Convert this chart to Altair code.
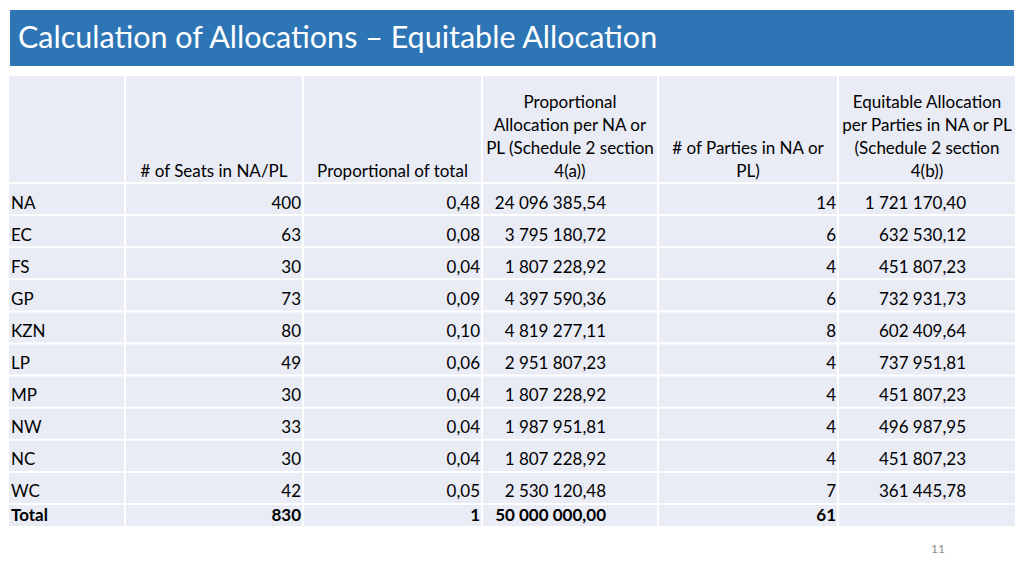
import altair as alt
import pandas as pd

# ---------------- data ----------------
title = "Calculation of Allocations \u2013 Equitable Allocation"
page_no = "11"
regions = ["NA", "EC", "FS", "GP", "KZN", "LP", "MP", "NW", "NC", "WC"]
seats = [400, 63, 30, 73, 80, 49, 30, 33, 30, 42]
proportion = [0.48, 0.08, 0.04, 0.09, 0.10, 0.06, 0.04, 0.04, 0.04, 0.05]
prop_alloc = [24096385.54, 3795180.72, 1807228.92, 4397590.36, 4819277.11,
              2951807.23, 1807228.92, 1987951.81, 1807228.92, 2530120.48]
parties = [14, 6, 4, 6, 8, 4, 4, 4, 4, 7]
equit_alloc = [1721170.40, 632530.12, 451807.23, 732931.73, 602409.64,
               737951.81, 451807.23, 496987.95, 451807.23, 361445.78]
total_label = "Total"
total_seats = 830
total_prop = "1"
total_alloc = 50000000.00
total_parties = 61
headers = [
    [],
    ["# of Seats in NA/PL"],
    ["Proportional of total"],
    ["Proportional", "Allocation per NA or", "PL (Schedule 2 section", "4(a))"],
    ["# of Parties in NA or", "PL)"],
    ["Equitable Allocation", "per Parties in NA or PL", "(Schedule 2 section", "4(b))"],
]


def money(v):
    return f"{v:,.2f}".replace(",", " ").replace(".", ",")


def dec(v):
    return f"{v:.2f}".replace(".", ",")


# ---------------- layout (chart pixel space) ----------------
W, H = 1008, 560
col_edges = [0, 117, 295, 474, 650, 830, 1008]
header_top, header_bottom = 68, 175
row_h = 32.1
total_h = 22
anchors = [(3, "left"), (293, "right"), (472, "right"), (598, "right"), (828, "right"), (958, "right")]
FONT = "Lato"
FS = 17
line_h = 23

# ---------------- build tables ----------------
cells = []
texts = []
for c in range(6):
    cells.append(dict(x1=col_edges[c] + 1, x2=col_edges[c + 1] - 1, y1=header_top, y2=header_bottom - 1))
    lines = headers[c]
    n = len(lines)
    for k, ln in enumerate(lines):
        texts.append(dict(x=(col_edges[c] + col_edges[c + 1]) / 2,
                          y=header_bottom - 11 - line_h * (n - 1 - k),
                          t=ln, al="center", bold=False))
for i, r in enumerate(regions):
    top = header_bottom + row_h * i
    for c in range(6):
        cells.append(dict(x1=col_edges[c] + 1, x2=col_edges[c + 1] - 1, y1=top + 1, y2=top + row_h - 1))
    vals = [r, str(seats[i]), dec(proportion[i]), money(prop_alloc[i]), str(parties[i]), money(equit_alloc[i])]
    for c, v in enumerate(vals):
        texts.append(dict(x=anchors[c][0], y=top + 20.5, t=v, al=anchors[c][1], bold=False))
top = header_bottom + row_h * len(regions)
for c in range(6):
    cells.append(dict(x1=col_edges[c] + 1, x2=col_edges[c + 1] - 1, y1=top + 1, y2=top + total_h))
tvals = [total_label, str(total_seats), total_prop, money(total_alloc), str(total_parties), ""]
for c, v in enumerate(tvals):
    if v:
        texts.append(dict(x=anchors[c][0], y=top + 12, t=v, al=anchors[c][1], bold=True))

cells_df = pd.DataFrame(cells)
texts_df = pd.DataFrame(texts)

xs = alt.Scale(domain=[0, W], range=[0, W])
ys = alt.Scale(domain=[0, H], range=[0, H])

banner = alt.Chart(pd.DataFrame([dict(x1=2, x2=1006, y1=2, y2=58, t=title, tx=10, ty=31)]))
banner_rect = banner.mark_rect(color="#2E75B6").encode(
    x=alt.X("x1:Q", scale=xs, axis=None), x2="x2:Q",
    y=alt.Y("y1:Q", scale=ys, axis=None), y2="y2:Q")
banner_text = banner.mark_text(align="left", baseline="middle", font=FONT, fontSize=30.5,
                               color="white").encode(
    x=alt.X("tx:Q", scale=xs, axis=None), y=alt.Y("ty:Q", scale=ys, axis=None), text="t:N")

cell_layer = alt.Chart(cells_df).mark_rect(color="#E9EBF5").encode(
    x=alt.X("x1:Q", scale=xs, axis=None), x2="x2:Q",
    y=alt.Y("y1:Q", scale=ys, axis=None), y2="y2:Q")

text_layers = []
for al in ["left", "right", "center"]:
    for b in [False, True]:
        sub = texts_df[(texts_df["al"] == al) & (texts_df["bold"] == b)][["x", "y", "t"]]
        if len(sub) == 0:
            continue
        text_layers.append(
            alt.Chart(sub).mark_text(align=al, baseline="middle", font=FONT, fontSize=FS,
                                     fontWeight="bold" if b else "normal", color="#000000").encode(
                x=alt.X("x:Q", scale=xs, axis=None), y=alt.Y("y:Q", scale=ys, axis=None), text="t:N"))

pn = alt.Chart(pd.DataFrame([dict(x=930, y=541, t=page_no)])).mark_text(
    align="center", baseline="middle", font=FONT, fontSize=12, color="#8C8C8C").encode(
    x=alt.X("x:Q", scale=xs, axis=None), y=alt.Y("y:Q", scale=ys, axis=None), text="t:N")

chart = alt.layer(banner_rect, banner_text, cell_layer, *text_layers, pn).properties(
    width=W, height=H, padding=0, autosize="none", background="white"
).configure_view(stroke=None)

chart.save("out.html", embed_options={"renderer": "svg", "actions": False})
